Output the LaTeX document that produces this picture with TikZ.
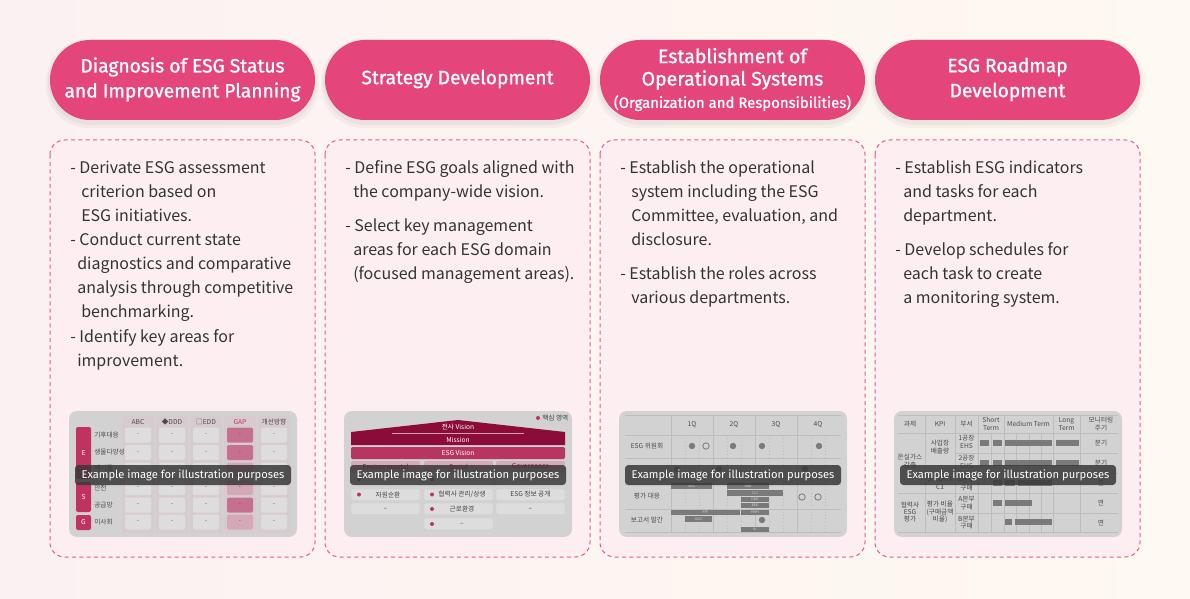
\documentclass[tikz,border=0pt]{standalone}
\usepackage{fontspec}
\setmainfont{Noto Sans CJK KR}
\newfontfamily\headfont{Fira Sans}[FakeBold=1.2]
\newfontfamily\labfont{Fira Sans}
\definecolor{bgL}{HTML}{FCF1F2}
\definecolor{bgR}{HTML}{FEF9F1}
\definecolor{pillc}{HTML}{E4457A}
\definecolor{dashc}{HTML}{E8588A}
\definecolor{boxfill}{HTML}{FDEFF1}
\definecolor{txtc}{HTML}{333333}
\definecolor{thumbbg}{HTML}{D2D2D2}
\definecolor{cellc}{HTML}{DDDDDD}
\definecolor{colbg}{HTML}{D8CBCF}
\definecolor{crim}{HTML}{8B0C38}
\definecolor{esgbar}{HTML}{B83562}
\definecolor{letterc}{HTML}{C0325F}
\definecolor{gapd}{HTML}{C6708F}
\definecolor{gapl}{HTML}{D3A9B7}
\definecolor{catc}{HTML}{D4ACB9}
\definecolor{barc}{HTML}{7A7A7A}
\definecolor{linec}{HTML}{BDBDBD}
\definecolor{tt}{HTML}{4A4A4A}
\tikzset{
  pill/.style={fill=pillc, rounded corners=30pt},
  pillshadow/.style={fill=black, opacity=0.035, rounded corners=32pt},
  dbox/.style={draw=dashc, dash pattern=on 3pt off 2.5pt, line width=0.75pt, rounded corners=11pt, fill=boxfill},
  bodytxt/.style={anchor=base west, inner sep=0, text=txtc, font=\fontsize{12}{18}\selectfont},
  ptext/.style={text=white, align=center, inner sep=0, font=\headfont\fontsize{14.4}{18.75}\selectfont},
  thumb/.style={fill=thumbbg, rounded corners=6pt},
  exlabel/.style={fill=black!78, fill opacity=0.85, text opacity=1, rounded corners=2.5pt, text=white,
    font=\labfont\fontsize{8.4}{10}\selectfont, inner sep=0, minimum width=162pt, minimum height=15pt},
  tinytxt/.style={font=\fontsize{5}{5.6}\selectfont, inner sep=0, text=tt, align=center},
  celltxt/.style={font=\fontsize{4.5}{5.2}\selectfont, inner sep=0, text=black!70},
  cell/.style={fill=cellc, rounded corners=1pt},
  icell/.style={fill=cellc, draw=black!20, line width=0.3pt, rounded corners=1pt},
  bar/.style={fill=barc},
  bartxt/.style={font=\fontsize{2.6}{3}\selectfont, inner sep=0, text=white!85!black},
  gline/.style={draw=linec, line width=0.5pt},
  dline/.style={draw=linec, line width=0.4pt, dotted},
  dotf/.style={fill=barc},
  doto/.style={draw=barc, line width=0.6pt},
}
\begin{document}
\begin{tikzpicture}[x=0.75pt,y=-0.75pt]
\useasboundingbox (0,0) rectangle (1190,599);
\shade[left color=bgL, right color=bgR] (0,0) rectangle (1190,599);

% ---------- pills ----------
\foreach \x in {50,325,600,875}{
  \fill[pillshadow] (\x-4,40-1) rectangle (\x+269,120+8);
  \fill[pillshadow] (\x-2,40) rectangle (\x+267,120+5);
}
\node[pill, minimum width=198.75pt, minimum height=60pt, inner sep=0] (p1) at (182.5,80) {};
\node[pill, minimum width=198.75pt, minimum height=60pt, inner sep=0] (p2) at (457.5,80) {};
\node[pill, minimum width=198.75pt, minimum height=60pt, inner sep=0] (p3) at (732.5,80) {};
\node[pill, minimum width=198.75pt, minimum height=60pt, inner sep=0] (p4) at (1007.5,80) {};
\node[ptext] (h1) at (182.5,79.5) {Diagnosis of ESG Status\\and Improvement Planning};
\node[ptext] (h2) at (457.5,79) {Strategy Development};
\node[ptext, font=\headfont\fontsize{14.6}{16.8}\selectfont] (h3) at (732.5,79.5) {Establishment of\\Operational Systems\\{\fontsize{11.2}{16.8}\selectfont (Organization and Responsibilities)}};
\node[ptext] (h4) at (1007.5,79.5) {ESG Roadmap\\Development};

% ---------- dashed boxes ----------
\draw[dbox] (50,140) rectangle (315,557);
\draw[dbox] (325,140) rectangle (590,557);
\draw[dbox] (600,140) rectangle (865,557);
\draw[dbox] (875,140) rectangle (1140,557);

% ---------- body texts ----------
\node[bodytxt] (a1) at (70,174) {- Derivate ESG assessment};
\node[bodytxt] (a2) at (81,198) {criterion based on};
\node[bodytxt] (a3) at (81,222) {ESG initiatives.};
\node[bodytxt] (a4) at (70,246) {- Conduct current state};
\node[bodytxt] (a5) at (77,270) {diagnostics and comparative};
\node[bodytxt] (a6) at (77,294) {analysis through competitive};
\node[bodytxt] (a7) at (81,318) {benchmarking.};
\node[bodytxt] (a8) at (70,342) {- Identify key areas for};
\node[bodytxt] (a9) at (77,366) {improvement.};

\node[bodytxt] (b1) at (345,174) {- Define ESG goals aligned with};
\node[bodytxt] (b2) at (353,198) {the company-wide vision.};
\node[bodytxt] (b3) at (345,232) {- Select key management};
\node[bodytxt] (b4) at (353,256) {areas for each ESG domain};
\node[bodytxt] (b5) at (353,280) {(focused management areas).};

\node[bodytxt] (c1) at (620,174) {- Establish the operational};
\node[bodytxt] (c2) at (631,198) {system including the ESG};
\node[bodytxt] (c3) at (631,222) {Committee, evaluation, and};
\node[bodytxt] (c4) at (631,246) {disclosure.};
\node[bodytxt] (c5) at (620,280) {- Establish the roles across};
\node[bodytxt] (c6) at (631,304) {various departments.};

\node[bodytxt] (d1) at (895,174) {- Establish ESG indicators};
\node[bodytxt] (d2) at (903,198) {and tasks for each};
\node[bodytxt] (d3) at (903,222) {department.};
\node[bodytxt] (d4) at (895,256) {- Develop schedules for};
\node[bodytxt] (d5) at (903,280) {each task to create};
\node[bodytxt] (d6) at (903,304) {a monitoring system.};

% ---------- thumbnail 1 ----------
\fill[thumb] (69,411) rectangle (297,537);
\foreach \c in {0,...,4} \fill[colbg, rounded corners=1.5pt] ({122+34*\c},416) rectangle ({154+34*\c},533);
\node[tinytxt] (t1h1) at (138,422) {ABC};
\node[tinytxt] (t1h2) at (172,422) {◆DDD};
\node[tinytxt] (t1h3) at (206,422) {□EDD};
\node[tinytxt, text=letterc] (t1h4) at (240,422) {GAP};
\node[tinytxt] (t1h5) at (274,422) {개선방향};
\foreach \r [count=\i] in {435,452.5,470,487.5,505,522}{
  \foreach \c in {0,...,4}{
    \fill[cell] ({125+34*\c},{\r-7.5}) rectangle ({151+34*\c},{\r+7.5});
  }
}
\foreach \r in {435,452.5,505} \fill[gapd, rounded corners=1pt] (227,{\r-7.5}) rectangle (253,{\r+7.5});
\foreach \r in {470,487.5,522} \fill[gapl, rounded corners=1pt] (227,{\r-7.5}) rectangle (253,{\r+7.5});
\foreach \r [count=\i] in {435,452.5,470,487.5,505,522}{
  \foreach \c in {0,...,4}{
    \node[celltxt] (t1d\i\c) at ({138+34*\c},\r) {-};
  }
}
\fill[letterc, rounded corners=1.5pt] (76,427) rectangle (91,479);
\fill[letterc, rounded corners=1.5pt] (76,482) rectangle (91,512);
\fill[letterc, rounded corners=1.5pt] (76,515) rectangle (91,530);
\node[tinytxt, text=white] (t1e) at (83.5,453) {E};
\node[tinytxt, text=white] (t1s) at (83.5,497) {S};
\node[tinytxt, text=white] (t1g) at (83.5,522.5) {G};
\node[tinytxt, anchor=west] (t1r1) at (94,435) {기후대응};
\node[tinytxt, anchor=west] (t1r2) at (94,452.5) {생물다양성};
\node[tinytxt, anchor=west] (t1r3) at (94,468) {폐기물};
\node[tinytxt, anchor=west] (t1r4) at (94,488) {안전};
\node[tinytxt, anchor=west] (t1r5) at (94,505) {공급망};
\node[tinytxt, anchor=west] (t1r6) at (94,522) {이사회};
\node[exlabel] (x1) at (183,475) {Example image for illustration purposes};

% ---------- thumbnail 2 ----------
\fill[thumb] (344,411) rectangle (572,537);
\fill[letterc] (538,418) circle (2);
\node[tinytxt, anchor=west, text=black!75] (t2k) at (542,418) {핵심 영역};
\fill[crim] (351,445) -- (351,432) -- (458,420) -- (565,432) -- (565,445) -- cycle;
\node[tinytxt, text=white] (t2v) at (458,427) {전사 Vision};
\draw[white, opacity=0.6, line width=0.4pt] (392,433) -- (524,433);
\node[tinytxt, text=white] (t2m) at (458,439.5) {Mission};
\fill[esgbar, rounded corners=1pt] (351,447) rectangle (565,459);
\node[tinytxt, text=white] (t2e) at (458,453) {ESG Vision};
\fill[catc, rounded corners=1pt] (351,461) rectangle (420,472);
\fill[catc, rounded corners=1pt] (424,461) rectangle (493,472);
\fill[catc, rounded corners=1pt] (496,461) rectangle (565,472);
\node[tinytxt, text=crim] (t2c1) at (385.5,466.5) {Environmental};
\node[tinytxt, text=crim] (t2c2) at (458.5,466.5) {Social};
\node[tinytxt, text=crim] (t2c3) at (530.5,466.5) {Governance};
\foreach \y in {474,489,503}{
  \fill[icell] (351,\y) rectangle (420,{\y+11.5});
  \fill[icell] (424,\y) rectangle (493,{\y+11.5});
  \fill[icell] (496,\y) rectangle (565,{\y+11.5});
}
\fill[icell] (424,518) rectangle (493,529.5);
\foreach \p in {(359,479.5),(432,479.5),(359,494.5),(432,494.5),(432,509),(432,524)} \fill[letterc] \p circle (2);
\node[tinytxt, text=black!75] (t2a) at (388,494.5) {자원순환};
\node[tinytxt, text=black!75] (t2b) at (462,494.5) {협력사 관리/상생};
\node[tinytxt, text=black!75] (t2c) at (530.5,494.5) {ESG 정보 공개};
\node[tinytxt, text=black!75] (t2d) at (385.5,509) {–};
\node[tinytxt, text=black!75] (t2e2) at (462,509) {근로환경};
\node[tinytxt, text=black!75] (t2f) at (530.5,509) {–};
\node[tinytxt, text=black!75] (t2g) at (462,524) {–};
\node[exlabel] (x2) at (458,475) {Example image for illustration purposes};

% ---------- thumbnail 3 ----------
\fill[thumb] (619,411) rectangle (847,537);
\foreach \y in {415,435,458,484,509,532} \draw[gline] (625,\y) -- (841,\y);
\foreach \x in {671,713,755,797} \draw[gline] (\x,415) -- (\x,532);
\foreach \x in {685,699,727,741,769,783,811,825} \draw[dline] (\x,435) -- (\x,532);
\node[tinytxt] (t3q1) at (692,425) {1Q};
\node[tinytxt] (t3q2) at (734,425) {2Q};
\node[tinytxt] (t3q3) at (776,425) {3Q};
\node[tinytxt] (t3q4) at (818,425) {4Q};
\node[tinytxt] (t3r1) at (647,446) {ESG 위원회};
\node[tinytxt] (t3r3) at (647,496) {평가 대응};
\node[tinytxt] (t3r4) at (647,520) {보고서 발간};
\foreach \p in {(692,446),(733,446),(762,446),(819,446),(677,469),(719,469),(805,469),(762,520)} \fill[dotf] \p circle (3.2);
\foreach \p in {(706,446),(802,497),(818,497)} \draw[doto] \p circle (3.2);
\fill[bar] (671,483) rectangle (712,489); \node[bartxt] (t3a) at (691.5,486) {AAA};
\fill[bar] (727,483) rectangle (769,489); \node[bartxt] (t3b) at (748,486) {BBB};
\fill[bar] (727,490) rectangle (783,496); \node[bartxt] (t3c) at (755,493) {CCC};
\fill[bar] (741,497) rectangle (769,502); \node[bartxt] (t3d) at (755,499.5) {DDD};
\fill[bar] (741,503) rectangle (769,508); \node[bartxt] (t3e) at (755,505.5) {EEE};
\fill[bar] (671,510) rectangle (740,515); \node[bartxt] (t3f) at (705.5,512.5) {FFF};
\fill[bar] (741,510) rectangle (769,515); \node[bartxt] (t3h) at (755,512.5) {HHH};
\fill[bar] (685,516) rectangle (712,522); \node[bartxt] (t3g) at (698.5,519) {GGG};
\fill[bar] (741,527) rectangle (769,532); \node[bartxt] (t3i) at (755,529.5) {III};
\node[exlabel] (x3) at (733,475) {Example image for illustration purposes};

% ---------- thumbnail 4 ----------
\fill[thumb] (894,411) rectangle (1122,537);
\draw[gline] (898,415) -- (1118,415);
\draw[gline] (898,433) -- (1118,433);
\draw[gline] (955,453) -- (1118,453);
\draw[gline] (925,473) -- (1118,473);
\draw[gline] (898,493) -- (1118,493);
\draw[gline] (955,513) -- (1118,513);
\draw[gline] (898,532) -- (1118,532);
\foreach \x in {925,955,978,1004,1053,1080} \draw[gline] (\x,415) -- (\x,532);
\foreach \x in {991,1016,1029,1041} \draw[gline, line width=0.3pt] (\x,433) -- (\x,532);
\node[tinytxt] (t4h1) at (910,424) {과제};
\node[tinytxt] (t4h2) at (940,424) {KPI};
\node[tinytxt] (t4h3) at (966.5,424) {부서};
\node[tinytxt] (t4h4) at (991,424) {Short\\Term};
\node[tinytxt] (t4h5) at (1028.5,424) {Medium Term};
\node[tinytxt] (t4h6) at (1066.5,424) {Long\\Term};
\node[tinytxt] (t4h7) at (1101,424) {모니터링\\주기};
\node[tinytxt] (t4a1) at (910,461) {온실가스\\감축};
\node[tinytxt] (t4a2) at (910,512) {협력사\\ESG\\평가};
\node[tinytxt] (t4b1) at (940,447) {사업장\\배출량};
\node[tinytxt] (t4b2) at (940,483) {Scope 3\\C1};
\node[tinytxt] (t4b3) at (940,512) {평가 비율\\(구매금액\\비율)};
\node[tinytxt] (t4c1) at (966.5,442) {1공장\\EHS};
\node[tinytxt] (t4c2) at (966.5,462) {2공장\\EHS};
\node[tinytxt] (t4c3) at (966.5,484) {A본부\\구매};
\node[tinytxt] (t4c4) at (966.5,503) {A본부\\구매};
\node[tinytxt] (t4c5) at (966.5,522.5) {B본부\\구매};
\node[tinytxt] (t4m1) at (1101,443) {분기};
\node[tinytxt] (t4m2) at (1101,463) {분기};
\node[tinytxt] (t4m3) at (1101,483) {연};
\node[tinytxt] (t4m4) at (1101,503) {연};
\node[tinytxt] (t4m5) at (1101,522.5) {연};
\foreach \y in {440,460}{
  \fill[bar] (980,\y) rectangle (989,{\y+6});
  \fill[bar] (993,\y) rectangle (1002,{\y+6});
  \fill[bar] (1005,\y) rectangle (1052,{\y+6});
  \fill[bar] (1056,\y) rectangle (1079,{\y+6});
}
\fill[bar] (993,480) rectangle (1002,486);
\fill[bar] (1005,480) rectangle (1015,486);
\fill[bar] (1018,480) rectangle (1052,486);
\fill[bar] (993,500) rectangle (1002,506);
\fill[bar] (1005,500) rectangle (1032,506);
\fill[bar] (1005,519) rectangle (1012,525);
\fill[bar] (1015,519) rectangle (1052,525);
\node[exlabel] (x4) at (1008,475) {Example image for illustration purposes};
\end{tikzpicture}
\end{document}
